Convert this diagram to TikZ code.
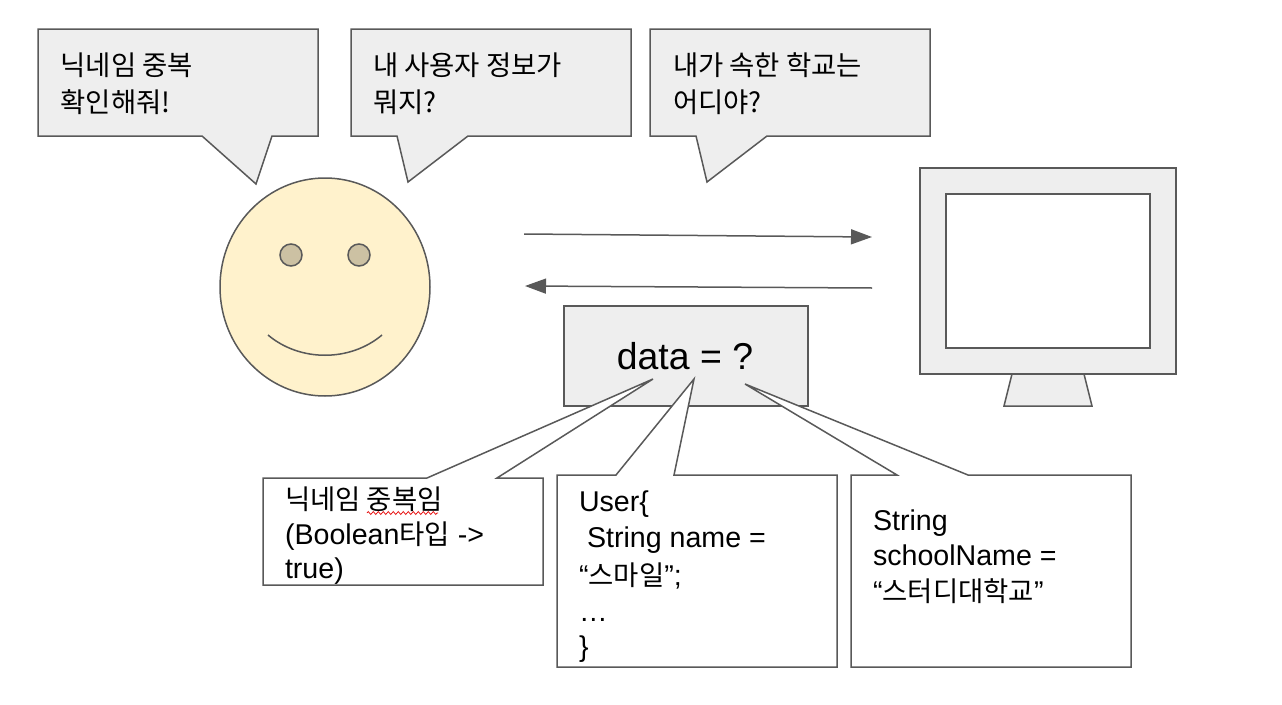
\documentclass[tikz,border=0pt]{standalone}
\usepackage{fontspec}
\setmainfont{Liberation Sans}
\newfontfamily\cjk[Scale=0.96]{Noto Sans CJK KR}
\usetikzlibrary{arrows.meta,decorations.pathmorphing}
\definecolor{ln}{HTML}{595959}
\definecolor{fillg}{HTML}{EEEEEE}
\definecolor{facey}{HTML}{FFF2CC}
\definecolor{eyec}{HTML}{CCC1A3}
\tikzset{
 x=1pt,y=-1pt,
 shp/.style={draw=ln,line width=1.5pt,line join=miter},
 call/.style={shp,fill=fillg},
 wbox/.style={draw=ln,line width=1.5pt,fill=white,line join=miter},
 txt/.style={anchor=base west,font=\fontsize{28.6}{32}\selectfont,inner sep=0pt,outer sep=0pt},
 conn/.style={draw=ln,line width=1.5pt,-{Triangle[length=21pt,width=15pt]}},
}
\begin{document}
\begin{tikzpicture}
\useasboundingbox (0,0) rectangle (1282,704);
% speech bubbles
\draw[call] (38,29) -- (318,29) -- (318,136) -- (272,136) -- (256,184) -- (202,136) -- (38,136) -- cycle;
\draw[call] (351,29) -- (631,29) -- (631,136) -- (468,136) -- (408,182) -- (397,136) -- (351,136) -- cycle;
\draw[call] (650,29) -- (930,29) -- (930,136) -- (767,136) -- (707,182) -- (696,136) -- (650,136) -- cycle;
\node[txt] (b1a) at (60.5,75.5) {\cjk 닉네임 중복};
\node[txt] (b1b) at (60.5,112) {\cjk 확인해줘!};
\node[txt] (b2a) at (373,75.5) {\cjk 내 사용자 정보가};
\node[txt] (b2b) at (373,112) {\cjk 뭐지?};
\node[txt] (b3a) at (673,75.5) {\cjk 내가 속한 학교는};
\node[txt] (b3b) at (673,112) {\cjk 어디야?};
% face
\draw[shp,fill=facey] (325,287) ellipse (105 and 109);
\draw[shp,fill=eyec] (291,255) circle (11);
\draw[shp,fill=eyec] (359,255) circle (11);
\draw[shp] (268,335) .. controls (300,362) and (350,362) .. (382,335);
% monitor
\draw[call] (920,168) rectangle (1176,374);
\draw[shp,fill=white] (946,194) rectangle (1150,348);
\draw[call] (1012,374) -- (1084,374) -- (1092,406) -- (1004,406) -- cycle;
% arrows
\coordinate (a1s) at (524,234); \coordinate (a1e) at (872,237);
\coordinate (a2s) at (872,288); \coordinate (a2e) at (525,286);
\draw[conn] (a1s) -- (a1e);
\draw[conn] (a2s) -- (a2e);
% data box
\draw[call] (564,306) rectangle (808,406);
\node[anchor=base,font=\fontsize{37.4}{40}\selectfont,inner sep=0pt] (data) at (685,369) {data = ?};
% callouts
\draw[wbox] (263,478) -- (427,478) -- (653,379) -- (497,478) -- (543,478) -- (543,585) -- (263,585) -- cycle;
\draw[wbox] (557,475) -- (616,475) -- (694,379) -- (674,475) -- (837,475) -- (837,667) -- (557,667) -- cycle;
\draw[wbox] (851,475) -- (897,475) -- (745,384) -- (968,475) -- (1131,475) -- (1131,667) -- (851,667) -- cycle;
\node[txt] (c1a) at (285,509) {\cjk 닉네임 중복임};
\node[txt] (c1b) at (285,544) {(Boolean{\cjk 타입} ->};
\node[txt] (c1c) at (285,578) {true)};
\draw[red!90!black,line width=.7pt,decorate,decoration={zigzag,segment length=5pt,amplitude=1.5pt}] (367,513) -- (438,513);
\node[txt] (c2a) at (579,511) {User\{};
\node[txt] (c2b) at (587,547) {String name =};
\node[txt] (c2c) at (579,585) {“{\cjk 스마일}”;};
\node[txt] (c2d) at (579,621) {…};
\node[txt] (c2e) at (579,656) {\}};
\node[txt] (c3a) at (873,530) {String};
\node[txt] (c3b) at (873,565) {schoolName =};
\node[txt] (c3c) at (873,601) {“{\cjk 스터디대학교}”};
\end{tikzpicture}
\end{document}
